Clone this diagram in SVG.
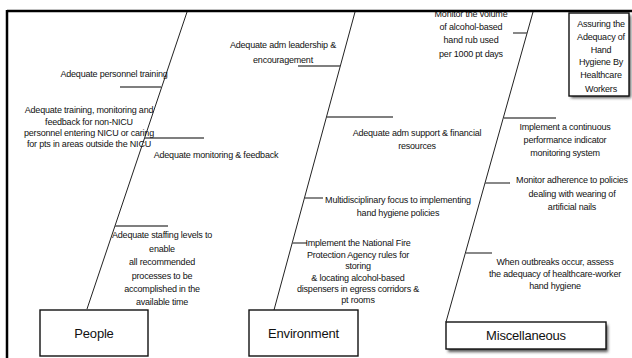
<svg xmlns="http://www.w3.org/2000/svg" width="632" height="358" viewBox="0 0 632 358">
<style>
.t{font-family:"Liberation Sans",Arial,sans-serif;font-size:9px;letter-spacing:-0.2px;fill:#111;text-anchor:middle}
.big{font-family:"Liberation Sans",Arial,sans-serif;font-size:13px;letter-spacing:-0.2px;fill:#111;text-anchor:middle}
.box{fill:#fff;stroke:#111;stroke-width:1.4}
.bone{stroke:#222;stroke-width:1;fill:none}
.rib{stroke:#555;stroke-width:1.4;fill:none}
.frame{stroke:#000;stroke-width:2.5;fill:none}
</style>
<defs>
<filter id="sh" x="-20%" y="-20%" width="150%" height="150%">
<feGaussianBlur stdDeviation="1.5"/>
</filter>
</defs>
<rect width="632" height="358" fill="#fff"/>
<g id="connectors">
<line class="bone" x1="87" y1="309" x2="187" y2="12"/>
<line class="bone" x1="274" y1="310" x2="355" y2="12"/>
<line class="bone" x1="446" y1="322" x2="533" y2="12"/>
<line class="rib" x1="120" y1="87" x2="161" y2="87"/>
<line class="rib" x1="145" y1="138" x2="204" y2="138"/>
<line class="rib" x1="115" y1="226" x2="168" y2="226"/>
<line class="rib" x1="298" y1="66" x2="340" y2="66"/>
<line class="rib" x1="327" y1="117" x2="393" y2="117"/>
<line class="rib" x1="305" y1="198" x2="323" y2="198"/>
<line class="rib" x1="292" y1="243" x2="307" y2="243"/>
<line class="rib" x1="513" y1="33" x2="527" y2="33"/>
<line class="rib" x1="504" y1="118" x2="556" y2="118"/>
<line class="rib" x1="485" y1="183" x2="510" y2="183"/>
<line class="rib" x1="466" y1="253" x2="492" y2="253"/>
</g>
<g id="cause-personnel-training">
<text class="t" x="114" y="77">Adequate personnel training</text>
</g>
<g id="cause-non-nicu-training">
<text class="t" x="89" y="113">Adequate training, monitoring and</text>
<text class="t" x="89" y="124.5">feedback for non-NICU</text>
<text class="t" x="89" y="136">personnel entering NICU or caring</text>
<text class="t" x="89" y="147">for pts in areas outside the NICU</text>
</g>
<g id="cause-monitoring-feedback">
<text class="t" x="216" y="158">Adequate monitoring &amp; feedback</text>
</g>
<g id="cause-staffing">
<text class="t" x="162" y="238">Adequate staffing levels to</text>
<text class="t" x="162" y="251.5">enable</text>
<text class="t" x="162" y="265">all recommended</text>
<text class="t" x="162" y="278.5">processes to be</text>
<text class="t" x="162" y="292">accomplished in the</text>
<text class="t" x="162" y="305">available time</text>
</g>
<g id="cause-leadership">
<text class="t" x="283" y="47.5">Adequate adm leadership &amp;</text>
<text class="t" x="283" y="62.5">encouragement</text>
</g>
<g id="cause-support">
<text class="t" x="417" y="136">Adequate adm support &amp; financial</text>
<text class="t" x="417" y="149">resources</text>
</g>
<g id="cause-multidisciplinary">
<text class="t" x="398" y="203">Multidisciplinary focus to implementing</text>
<text class="t" x="398" y="216">hand hygiene policies</text>
</g>
<g id="cause-fire-protection">
<text class="t" x="358" y="246">Implement the National Fire</text>
<text class="t" x="358" y="257.5">Protection Agency rules for</text>
<text class="t" x="358" y="269">storing</text>
<text class="t" x="358" y="280.5">&amp; locating alcohol-based</text>
<text class="t" x="358" y="292">dispensers in egress corridors &amp;</text>
<text class="t" x="358" y="303">pt rooms</text>
</g>
<g id="cause-volume">
<text class="t" x="471" y="16.5">Monitor the volume</text>
<text class="t" x="471" y="30">of alcohol-based</text>
<text class="t" x="471" y="43">hand rub used</text>
<text class="t" x="471" y="57">per 1000 pt days</text>
</g>
<g id="cause-indicator">
<text class="t" x="565" y="130">Implement a continuous</text>
<text class="t" x="565" y="143">performance indicator</text>
<text class="t" x="565" y="156">monitoring system</text>
</g>
<g id="cause-nails">
<text class="t" x="572" y="183">Monitor adherence to policies</text>
<text class="t" x="572" y="197">dealing with wearing of</text>
<text class="t" x="572" y="210">artificial nails</text>
</g>
<g id="cause-outbreaks">
<text class="t" x="555" y="265">When outbreaks occur, assess</text>
<text class="t" x="555" y="277">the adequacy of healthcare-worker</text>
<text class="t" x="555" y="288.5">hand hygiene</text>
</g>
<g id="head">
<rect x="571" y="15" width="60" height="83" fill="#555" filter="url(#sh)"/>
<rect class="box" x="569" y="13" width="60" height="83"/>
<text class="t" x="601" y="27">Assuring the</text>
<text class="t" x="601" y="40">Adequacy of</text>
<text class="t" x="601" y="52.5">Hand</text>
<text class="t" x="601" y="65">Hygiene By</text>
<text class="t" x="601" y="78">Healthcare</text>
<text class="t" x="601" y="91.5">Workers</text>
</g>
<g id="people">
<rect class="box" x="40" y="310" width="108" height="46"/>
<text class="big" x="94" y="338">People</text>
</g>
<g id="environment">
<rect class="box" x="249" y="310" width="109" height="46"/>
<text class="big" x="303.5" y="338">Environment</text>
</g>
<g id="miscellaneous">
<rect x="448" y="325" width="160" height="27" fill="#555" filter="url(#sh)"/>
<rect class="box" x="446" y="322" width="160" height="27"/>
<text class="big" x="526" y="340">Miscellaneous</text>
</g>
<g id="frame">
<line class="frame" x1="7" y1="11" x2="632" y2="11"/>
<line class="frame" x1="7" y1="10" x2="7" y2="358"/>
</g>
</svg>
